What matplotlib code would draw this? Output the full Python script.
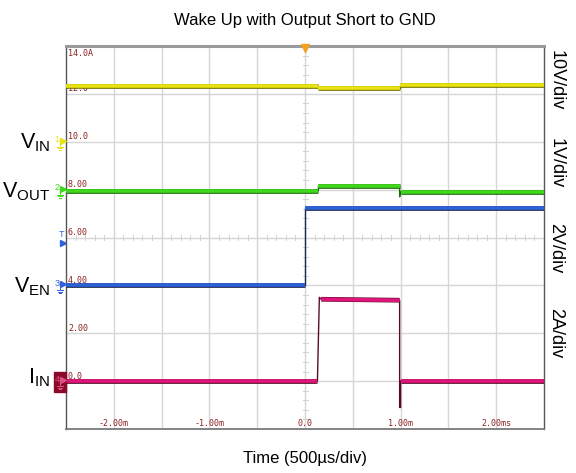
import matplotlib.pyplot as plt
import matplotlib.patheffects as pe
from matplotlib.patches import Rectangle

plt.rcParams['font.family'] = ['Liberation Sans', 'DejaVu Sans']
plt.rcParams['mathtext.fontset'] = 'custom'
plt.rcParams['mathtext.rm'] = 'Liberation Sans'
plt.rcParams['mathtext.it'] = 'Liberation Sans'

# scope traces, time in ms, values in volts / amps
vin_t = [-2.5, 0.14, 0.14, 0.99, 0.99, 2.5]
vin_v = [11.6, 11.6, 11.3, 11.3, 11.9, 11.9]

vout_t = [-2.5, 0.14, 0.14, 0.99, 0.99, 1.0, 1.0, 2.5]
vout_v = [-0.02, -0.02, 0.07, 0.07, -0.15, -0.05, -0.05, -0.05]

ven_t = [-2.5, 0.0, 0.0, 2.5]
ven_v = [0.0, 0.0, 3.25, 3.25]

iin_t = [-2.5, 0.13, 0.15, 0.17, 0.99, 0.99, 1.0, 1.0, 2.5]
iin_v = [0.0, 0.0, 3.5, 3.42, 3.38, -1.1, -1.1, 0.0, 0.0]

# channel settings: ground position on screen scale, units per division
channels = [
    ('VIN', vin_t, vin_v, 10.0, 10.0, '#e8e412', '#7a7400', '1'),
    ('VOUT', vout_t, vout_v, 8.0, 1.0, '#3fd81c', '#1c6a0c', '2'),
    ('VEN', ven_t, ven_v, 4.0, 2.0, '#2f62d8', '#1a2850', '3'),
    ('IIN', iin_t, iin_v, 0.0, 2.0, '#e0157c', '#5a0a28', '4'),
]
names = {'VIN': r'$\mathregular{V_{IN}}$', 'VOUT': r'$\mathregular{V_{OUT}}$',
         'VEN': r'$\mathregular{V_{EN}}$', 'IIN': r'$\mathregular{I_{IN}}$'}
name_drop = {'VIN': 6.5, 'VOUT': 7.5, 'VEN': 6.6, 'IIN': 2.0}

y_ticks = [14, 12, 10, 8, 6, 4, 2, 0]
y_labels = ['14.0A', '12.0', '10.0', '8.00', '6.00', '4.00', '2.00', '0.0']
x_ticks = [-2, -1, 0, 1, 2]
x_labels = ['-2.00m', '-1.00m', '0.0', '1.00m', '2.00ms']
scales = ['10V/div', '1V/div', '2V/div', '2A/div']
scale_y = [80, 163, 248, 333]

fig = plt.figure(figsize=(5.76, 4.73), dpi=100)
ax = fig.add_axes([66 / 576, 1 - 429 / 473, 478 / 576, 383 / 473])
ax.set_xlim(-2.5, 2.5)
ax.set_ylim(-2, 14)
ax.set_xticks([])
ax.set_yticks([])

# pixel size in data units
PX_T = 0.5 / 47.8
PX_Y = 2.0 / 47.9

grid_c = '#d6d6d6'
for k in range(1, 10):
    ax.axvline(-2.5 + 0.5 * k, color=grid_c, lw=1, zorder=1)
for k in range(1, 8):
    ax.axhline(-2 + 2 * k, color=grid_c, lw=1, zorder=1)

# minor ticks on the center lines
for i in range(-25, 26):
    t = i * 0.1
    ax.plot([t, t], [6 - 2.5 * PX_Y, 6 + 2.5 * PX_Y], color='#d2d2d2', lw=0.7, zorder=1)
for i in range(-5, 36):
    v = i * 0.4
    ax.plot([-2.5 * PX_T, 2.5 * PX_T], [v, v], color='#d2d2d2', lw=0.7, zorder=1)

for s in ['left', 'right']:
    ax.spines[s].set_color('#555555')
    ax.spines[s].set_linewidth(1)
ax.spines['top'].set_color('#9a9a9a')
ax.spines['top'].set_linewidth(2.2)
ax.spines['bottom'].set_color('#7a7a7a')
ax.spines['bottom'].set_linewidth(1.3)

lab_c = '#8b2020'
for v, s in zip(y_ticks, y_labels):
    if v == 14:
        ax.text(-2.5 + 2 * PX_T, v - 3 * PX_Y, s, fontsize=6, family='DejaVu Sans Mono',
                color=lab_c, va='top', ha='left', zorder=2)
    else:
        ax.text(-2.5 + 2 * PX_T, v + 0.5 * PX_Y, s, fontsize=6, family='DejaVu Sans Mono',
                color=lab_c, va='bottom', ha='left', zorder=2)
for t, s in zip(x_ticks, x_labels):
    ax.text(t, -2 + 6 * PX_Y, s, fontsize=6, family='DejaVu Sans Mono',
            color=lab_c, va='center', ha='center', zorder=2)

for key, ts, vs, gnd, per_div, col, dark, num in channels:
    ys = [gnd + v / per_div * 2 for v in vs]
    # thin edges, thick flat parts
    ax.plot(ts, ys, color=dark, lw=1, zorder=3)
    for i in range(len(ts) - 1):
        if ts[i + 1] - ts[i] > 0.05:
            ax.plot(ts[i:i + 2], ys[i:i + 2], color=col, lw=2.6, solid_capstyle='butt', zorder=4,
                    path_effects=[pe.Stroke(linewidth=3.4, foreground=dark), pe.Normal()])

    # name at the left of the screen
    ax.text(-2.5 - 16 * PX_T, gnd - name_drop[key] * PX_Y, names[key], fontsize=15.5,
            ha='right', va='baseline', clip_on=False)

    # ground marker
    if key == 'IIN':
        ax.add_patch(Rectangle((-2.5 - 12 * PX_T, gnd - 11 * PX_Y), 12 * PX_T, 20 * PX_Y,
                               facecolor='#8b0a2a', edgecolor='#8b0a2a', clip_on=False, zorder=5))
        mc = '#e05080'
    else:
        mc = col
    ax.text(-2.5 - 9 * PX_T, gnd + 2 * PX_Y, num, fontsize=6.5, color=mc,
            ha='center', va='center', clip_on=False, zorder=6)
    ax.plot([-2.5 - 3 * PX_T], [gnd + 1 * PX_Y], marker='>', markersize=4, color=mc,
            clip_on=False, zorder=6)
    gx = -2.5 - 6 * PX_T
    ax.plot([gx, gx], [gnd, gnd - 5 * PX_Y], color=mc, lw=0.7, clip_on=False, zorder=6)
    for j, w in enumerate([3, 2, 1]):
        yy = gnd - (5 + 1.5 * j) * PX_Y
        ax.plot([gx - w * PX_T, gx + w * PX_T], [yy, yy], color=mc, lw=0.7,
                clip_on=False, zorder=6)

# trigger markers
ax.plot([0], [14 - 2.5 * PX_Y], marker='v', markersize=6, color='#f5a020',
        clip_on=False, zorder=6)
ax.text(-2.5 - 4 * PX_T, 6 + 3 * PX_Y, 'T', fontsize=6.5, color='#2f62d8',
        ha='center', va='center', clip_on=False)
ax.plot([-2.5 - 2.5 * PX_T], [6 - 6 * PX_Y], marker='>', markersize=4, color='#2f62d8',
        clip_on=False)

# volts/amps per division on the right
for s, yp in zip(scales, scale_y):
    fig.text(556 / 576, 1 - yp / 473, s, fontsize=13, rotation=-90,
             ha='center', va='center')

fig.text(305 / 576, 1 - 20 / 473, 'Wake Up with Output Short to GND', fontsize=12,
         ha='center', va='center')
fig.text(305 / 576, 1 - 458 / 473, 'Time (500µs/div)', fontsize=12,
         ha='center', va='center')

fig.savefig('out.png', dpi=100)
